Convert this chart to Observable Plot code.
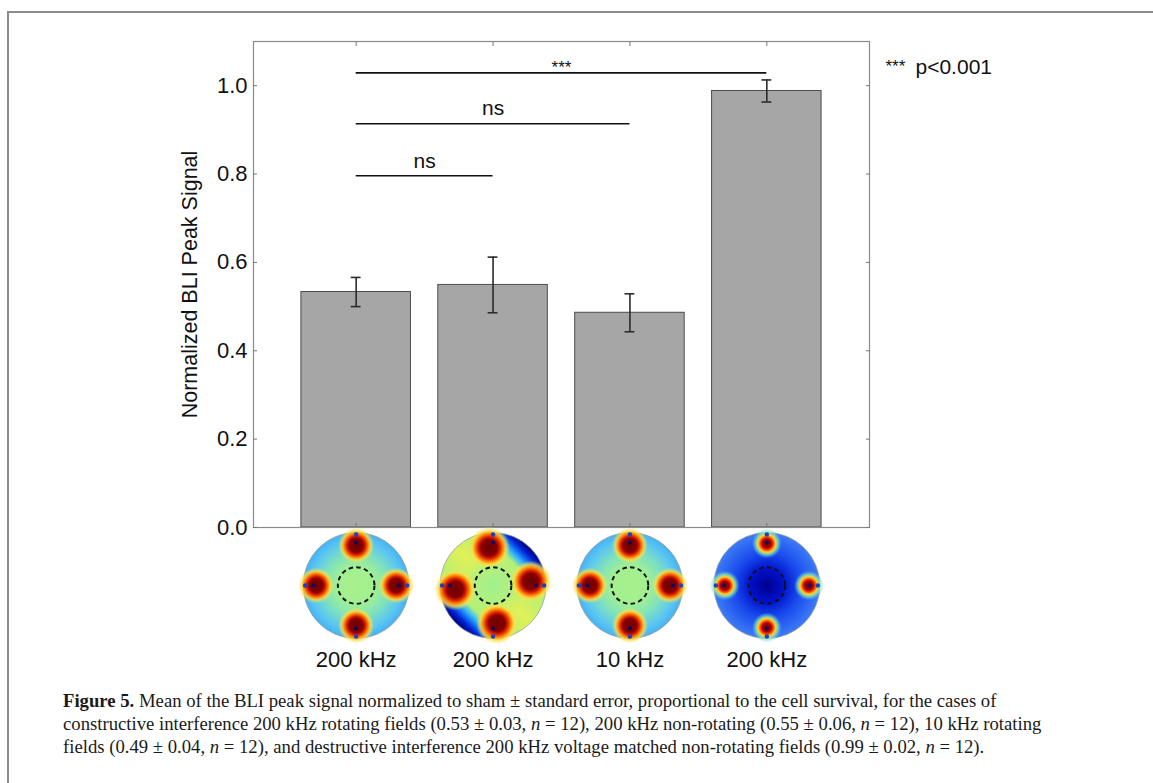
<!DOCTYPE html>
<html><head><meta charset="utf-8">
<script src="https://cdn.jsdelivr.net/npm/d3@7"></script>
<script src="https://cdn.jsdelivr.net/npm/@observablehq/plot@0.6"></script>
<style>
body{margin:0;background:#fff;width:1153px;height:783px;overflow:hidden;position:relative;font-family:"Liberation Sans",Arial,sans-serif;}
#border{position:absolute;left:7px;top:11px;right:-10px;bottom:-10px;border-top:2px solid #8c8c8c;border-left:2px solid #8c8c8c;}
#chart{position:absolute;left:0;top:0;}
#caption{position:absolute;left:63px;top:689px;font-family:"Liberation Serif","Times New Roman",serif;font-size:18.7px;line-height:23px;color:#1a1a1a;white-space:nowrap;}
</style></head>
<body>
<svg width="0" height="0" style="position:absolute">
<defs>
<radialGradient id="bg-con">
 <stop offset="0" stop-color="#a8f08c"/>
 <stop offset="0.35" stop-color="#a2f092"/>
 <stop offset="0.6" stop-color="#80e2bc"/>
 <stop offset="0.85" stop-color="#5ac6f2"/>
 <stop offset="1" stop-color="#46b2f4"/>
</radialGradient>
<radialGradient id="bg-des">
 <stop offset="0" stop-color="#00008c"/>
 <stop offset="0.3" stop-color="#0010c8"/>
 <stop offset="0.6" stop-color="#1848ec"/>
 <stop offset="1" stop-color="#3c7cf6"/>
</radialGradient>
<linearGradient id="bg-non" x1="1" y1="0" x2="0" y2="1">
 <stop offset="0.146" stop-color="#00007a"/>
 <stop offset="0.19" stop-color="#0020d0"/>
 <stop offset="0.225" stop-color="#1070f8"/>
 <stop offset="0.26" stop-color="#40c0f0"/>
 <stop offset="0.3" stop-color="#b0f078"/>
 <stop offset="0.5" stop-color="#e0f058"/>
 <stop offset="0.7" stop-color="#b0f078"/>
 <stop offset="0.74" stop-color="#40c0f0"/>
 <stop offset="0.775" stop-color="#1070f8"/>
 <stop offset="0.81" stop-color="#0020d0"/>
 <stop offset="0.854" stop-color="#00007a"/>
</linearGradient>
<radialGradient id="ctr-green">
 <stop offset="0" stop-color="#a0f090" stop-opacity="1"/>
 <stop offset="0.5" stop-color="#a8f088" stop-opacity="0.8"/>
 <stop offset="1" stop-color="#c0f070" stop-opacity="0"/>
</radialGradient>
<radialGradient id="hot">
 <stop offset="0" stop-color="#6a0000"/>
 <stop offset="0.38" stop-color="#880000"/>
 <stop offset="0.52" stop-color="#d82000"/>
 <stop offset="0.66" stop-color="#ff8000"/>
 <stop offset="0.8" stop-color="#ffd840" stop-opacity="0.8"/>
 <stop offset="1" stop-color="#e8f060" stop-opacity="0"/>
</radialGradient>
<radialGradient id="hot-s">
 <stop offset="0" stop-color="#6a0000"/>
 <stop offset="0.3" stop-color="#b00000"/>
 <stop offset="0.44" stop-color="#ff4a00"/>
 <stop offset="0.58" stop-color="#ffd030"/>
 <stop offset="0.74" stop-color="#90f0a0" stop-opacity="0.75"/>
 <stop offset="1" stop-color="#50b8ff" stop-opacity="0"/>
</radialGradient>
</defs>
</svg>
<div id="border"></div>
<div id="chart"></div>
<div id="caption"><b>Figure 5.</b> Mean of the BLI peak signal normalized to sham ± standard error, proportional to the cell survival, for the cases of<br>constructive interference 200 kHz rotating fields (0.53 ± 0.03, <i>n</i> = 12), 200 kHz non-rotating (0.55 ± 0.06, <i>n</i> = 12), 10 kHz rotating<br>fields (0.49 ± 0.04, <i>n</i> = 12), and destructive interference 200 kHz voltage matched non-rotating fields (0.99 ± 0.02, <i>n</i> = 12).</div>
<script>
// ---- data ----
const conditions = ["200 kHz rotating", "200 kHz non-rotating", "10 kHz rotating", "200 kHz destructive non-rotating"];
const freqLabels = ["200 kHz", "200 kHz", "10 kHz", "200 kHz"];
const fieldPatterns = ["constructive", "nonrotating", "constructive", "destructive"];
const means = [0.533, 0.549, 0.486, 0.988];
const sems = [0.033, 0.063, 0.043, 0.025];
const sigFrom = [1, 1, 1];
const sigTo = [2, 3, 4];
const sigLevel = [0.796, 0.914, 1.029];
const sigLabels = ["ns", "ns", "***"];
const yTicks = [0, 0.2, 0.4, 0.6, 0.8, 1.0];
const electrodeAngles = [0, 90, 180, 270];

const data = conditions.map((c, i) => ({pos: i + 1, cond: c, freq: freqLabels[i], pattern: fieldPatterns[i], mean: means[i], sem: sems[i]}));
const sig = sigFrom.map((f, i) => ({from: f, to: sigTo[i], level: sigLevel[i], label: sigLabels[i]}));
const positions = data.map(d => d.pos);

// ---- disk (field map) styling ----
const diskDy = 58, diskR = 53;
const patternStyle = {
  constructive: {bg: "url(#bg-con)", hot: "url(#hot)", hotR: 18, hotDist: 40, rot: 0, overlay: null},
  nonrotating: {bg: "url(#bg-non)", hot: "url(#hot)", hotR: 21, hotDist: 38, rot: -6, overlay: "url(#ctr-green)"},
  destructive: {bg: "url(#bg-des)", hot: "url(#hot-s)", hotR: 15, hotDist: 42, rot: 0, overlay: null}
};
function diskMarks(pattern) {
  const st = patternStyle[pattern];
  const sub = data.filter(d => d.pattern === pattern);
  const base = {x: "pos", frameAnchor: "bottom"};
  const marks = [Plot.dot(sub, {...base, dy: diskDy, r: diskR, fill: st.bg, stroke: "#a0a0a0", strokeWidth: 0.8})];
  if (st.overlay) marks.push(Plot.dot(sub, {...base, dy: diskDy, r: 34, fill: st.overlay}));
  for (const a of electrodeAngles) {
    const t = (a + st.rot) * Math.PI / 180;
    marks.push(Plot.dot(sub, {...base, dx: st.hotDist * Math.cos(t), dy: diskDy + st.hotDist * Math.sin(t), r: st.hotR, fill: st.hot}));
  }
  for (const a of electrodeAngles) {
    const t0 = a * Math.PI / 180;
    marks.push(Plot.dot(sub, {...base, dx: 51 * Math.cos(t0), dy: diskDy + 51 * Math.sin(t0), r: 2.2, fill: "#1a40c8"}));
    marks.push(Plot.dot(sub, {...base, dx: 43 * Math.cos(t0), dy: diskDy + 43 * Math.sin(t0), r: 2, fill: "#0a0a60"}));
  }
  marks.push(Plot.dot(sub, {...base, dy: diskDy, r: 18.3, fill: "none", stroke: "#111", strokeWidth: 2, strokeDasharray: "4.5 3.3"}));
  return marks;
}

const chart = Plot.plot({
  width: 1153,
  height: 680,
  marginLeft: 253,
  marginRight: 284,
  marginTop: 41,
  marginBottom: 153,
  style: {fontFamily: "'Liberation Sans', Arial, sans-serif", color: "#111", background: "none", overflow: "visible"},
  x: {domain: [0.25, 4.75]},
  y: {domain: [0, 1.1]},
  marks: [
    Plot.rectY(data, {x1: d => d.pos - 0.4, x2: d => d.pos + 0.4, y1: 0, y2: "mean", fill: "#a6a6a6", stroke: "#4d4d4d", strokeWidth: 1}),
    Plot.ruleX(data, {x: "pos", y1: d => d.mean - d.sem, y2: d => d.mean + d.sem, stroke: "#2b2b2b", strokeWidth: 1.6}),
    Plot.ruleY(data, {y: d => d.mean + d.sem, x1: d => d.pos - 0.036, x2: d => d.pos + 0.036, stroke: "#2b2b2b", strokeWidth: 1.6}),
    Plot.ruleY(data, {y: d => d.mean - d.sem, x1: d => d.pos - 0.036, x2: d => d.pos + 0.036, stroke: "#2b2b2b", strokeWidth: 1.6}),
    Plot.frame({stroke: "#8a8a8a", strokeWidth: 1.2}),
    Plot.axisY({anchor: "left", ticks: yTicks, tickSize: -4, tickPadding: 10, tickFormat: d3.format(".1f"), fontSize: 22, stroke: "#777", label: null}),
    Plot.axisY({anchor: "right", ticks: yTicks, tickSize: -4, tickFormat: () => "", stroke: "#777", label: null}),
    Plot.axisX({anchor: "bottom", ticks: positions, tickSize: -4, tickFormat: () => "", stroke: "#777", label: null}),
    Plot.axisX({anchor: "top", ticks: positions, tickSize: -4, tickFormat: () => "", stroke: "#777", label: null}),
    Plot.text(["Normalized BLI Peak Signal"], {frameAnchor: "left", rotate: -90, dx: -63, textAnchor: "middle", lineAnchor: "middle", fontSize: 21.5}),
    Plot.ruleY(sig, {y: "level", x1: "from", x2: "to", stroke: "#111", strokeWidth: 1.6}),
    Plot.text(sig.filter(d => d.label === "ns"), {x: d => (d.from + d.to) / 2, y: "level", text: "label", dy: -15, fontSize: 21}),
    Plot.text(sig.filter(d => d.label !== "ns"), {x: d => (d.from + d.to) / 2, y: "level", text: "label", dy: -5, fontSize: 17}),
    Plot.text(["***"], {frameAnchor: "top-right", dx: 16, dy: 25, textAnchor: "start", lineAnchor: "middle", fontSize: 17}),
    Plot.text(["p<0.001"], {frameAnchor: "top-right", dx: 46, dy: 26, textAnchor: "start", lineAnchor: "middle", fontSize: 21}),
    ...fieldPatterns.filter((p, i, a) => a.indexOf(p) === i).flatMap(diskMarks),
    Plot.text(data, {x: "pos", frameAnchor: "bottom", dy: 132, text: "freq", lineAnchor: "middle", fontSize: 22})
  ]
});
document.getElementById("chart").appendChild(chart);
</script>
</body></html>
